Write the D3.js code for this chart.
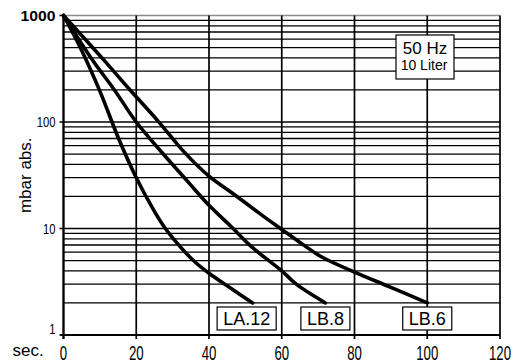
<!DOCTYPE html>
<html>
<head>
<meta charset="utf-8">
<script src="https://cdn.jsdelivr.net/npm/d3@7"></script>
<style>
  body { margin: 0; background: #fff; }
  svg { display: block; font-family: "Liberation Sans", Arial, sans-serif; }
  .grid-h { stroke: #000; stroke-width: 1.3; }
  .grid-v { stroke: #000; stroke-width: 1.7; }
  .curve { fill: none; stroke: #000; stroke-width: 3.6; stroke-linejoin: round; stroke-linecap: round; }
  .tag rect { fill: #fff; stroke: #000; stroke-width: 1.2; }
</style>
</head>
<body>
<svg id="chart"></svg>
<script>
(function() {
  'use strict';
  const W = 516, H = 363;
  const left = 63.5, right = 500, top = 15.5, bottom = 335;

  // pump-down curves, time in seconds vs pressure in mbar abs.
  const seriesNames = ['LA.12', 'LB.8', 'LB.6'];
  const timeLA12 = [0, 5, 10, 15, 20, 25, 28, 32, 36, 40, 45, 52];
  const presLA12 = [1000, 470, 195, 72, 30, 14.5, 10, 6.8, 4.9, 3.8, 2.9, 2];
  const timeLB8 = [0, 8, 14, 20, 27, 34, 40, 46, 52, 60, 64, 72];
  const presLB8 = [1000, 380, 200, 100, 52, 28, 16.5, 10.5, 6.6, 4, 3, 2];
  const timeLB6 = [0, 11, 18, 26, 33, 40, 46, 55, 60, 65, 71, 80, 90, 100];
  const presLB6 = [1000, 385, 205, 102, 53, 31, 22, 13, 9.8, 7.4, 5.4, 3.9, 2.8, 2];

  const xLabels = ['0', '20', '40', '60', '80', '100', '120'];
  const yLabels = ['1', '10', '100', '1000'];
  const infoTitle = '50 Hz';
  const infoSub = '10 Liter';

  const series = [
    {name: seriesNames[0], t: timeLA12, p: presLA12, shift: -6},
    {name: seriesNames[1], t: timeLB8, p: presLB8, shift: 0},
    {name: seriesNames[2], t: timeLB6, p: presLB6, shift: 0}
  ];

  const x = d3.scaleLinear().domain([0, 120]).range([left, right]);
  const y = d3.scaleLog().domain([1, 1000]).range([bottom, top]);

  const svg = d3.select('#chart').attr('width', W).attr('height', H);

  // horizontal grid (1..9 per decade)
  svg.selectAll('.grid-h')
    .data(y.ticks().filter(d => d < 1000))
    .enter()
    .append('line')
      .attr('class', 'grid-h')
      .attr('x1', left)
      .attr('x2', right)
      .attr('y1', d => y(d))
      .attr('y2', d => y(d));

  // top line is grey
  svg.append('line')
    .attr('x1', left).attr('x2', right)
    .attr('y1', y(1000)).attr('y2', y(1000))
    .attr('stroke', '#8a8a8a').attr('stroke-width', 1.5);

  // vertical grid
  svg.selectAll('.grid-v')
    .data(x.ticks(6))
    .enter()
    .append('line')
      .attr('class', 'grid-v')
      .attr('x1', d => x(d))
      .attr('x2', d => x(d))
      .attr('y1', top)
      .attr('y2', bottom + 4);

  // axes lines
  svg.append('line')
    .attr('x1', left - 3).attr('x2', right)
    .attr('y1', bottom).attr('y2', bottom)
    .attr('stroke', '#000').attr('stroke-width', 2);
  svg.append('line')
    .attr('x1', left).attr('x2', left)
    .attr('y1', top).attr('y2', bottom + 4)
    .attr('stroke', '#000').attr('stroke-width', 2);

  // y ticks
  svg.selectAll('.ytick')
    .data(yLabels)
    .enter()
    .append('line')
      .attr('class', 'ytick')
      .attr('x1', left - 4).attr('x2', left)
      .attr('y1', d => y(+d)).attr('y2', d => y(+d))
      .attr('stroke', '#000').attr('stroke-width', 1.5);

  svg.selectAll('.ylab')
    .data(yLabels)
    .enter()
    .append('text')
      .attr('class', 'ylab')
      .attr('text-anchor', 'end')
      .attr('font-size', d => d === '1000' ? 15 : 14)
      .attr('font-weight', d => d === '1000' ? 'bold' : 'normal')
      .attr('transform', d => {
        const yy = Math.min(y(+d), bottom - 6) + 5;
        const s = d === '1000' ? 1.05 : 0.8;
        return `translate(${left - 8},${yy}) scale(${s},1)`;
      })
      .text(d => d);

  // x labels (tall, narrow digits)
  svg.selectAll('.xlab')
    .data(xLabels)
    .enter()
    .append('text')
      .attr('class', 'xlab')
      .attr('text-anchor', 'middle')
      .attr('font-size', 20)
      .attr('transform', d => `translate(${x(+d)},359.5) scale(0.66,1)`)
      .text(d => d);

  svg.append('text')
    .attr('x', 12.5)
    .attr('y', 356)
    .attr('font-size', 17)
    .text('sec.');

  svg.append('text')
    .attr('transform', `translate(31,${(top + bottom) / 2}) rotate(-90)`)
    .attr('text-anchor', 'middle')
    .attr('font-size', 17)
    .text('mbar abs.');

  // curves
  const line = d3.line()
    .x(d => x(d[0]))
    .y(d => y(d[1]))
    .curve(d3.curveCatmullRom.alpha(0.5));

  svg.selectAll('.curve')
    .data(series)
    .enter()
    .append('path')
      .attr('class', 'curve')
      .attr('d', s => line(d3.zip(s.t, s.p)));

  // name tags under the curve ends
  const tags = svg.selectAll('.tag')
    .data(series)
    .enter()
    .append('g')
      .attr('class', 'tag');

  tags.append('rect');
  tags.append('text')
    .attr('font-size', 18)
    .attr('text-anchor', 'middle')
    .attr('x', s => x(s.t[s.t.length - 1]) + s.shift)
    .attr('y', 325)
    .text(s => s.name);

  tags.each(function() {
    const g = d3.select(this);
    const bb = g.select('text').node().getBBox();
    g.select('rect')
      .attr('x', bb.x - 6)
      .attr('y', 307)
      .attr('width', bb.width + 12)
      .attr('height', 23);
  });

  // info box
  const info = svg.append('g').attr('class', 'tag');
  info.append('rect')
    .attr('x', 396).attr('y', 35)
    .attr('width', 58).attr('height', 44);
  info.append('text')
    .attr('x', 425).attr('y', 53.5)
    .attr('text-anchor', 'middle')
    .attr('font-size', 17)
    .text(infoTitle);
  info.append('text')
    .attr('x', 424).attr('y', 70)
    .attr('text-anchor', 'middle')
    .attr('font-size', 14)
    .text(infoSub);
})();
</script>
</body>
</html>
